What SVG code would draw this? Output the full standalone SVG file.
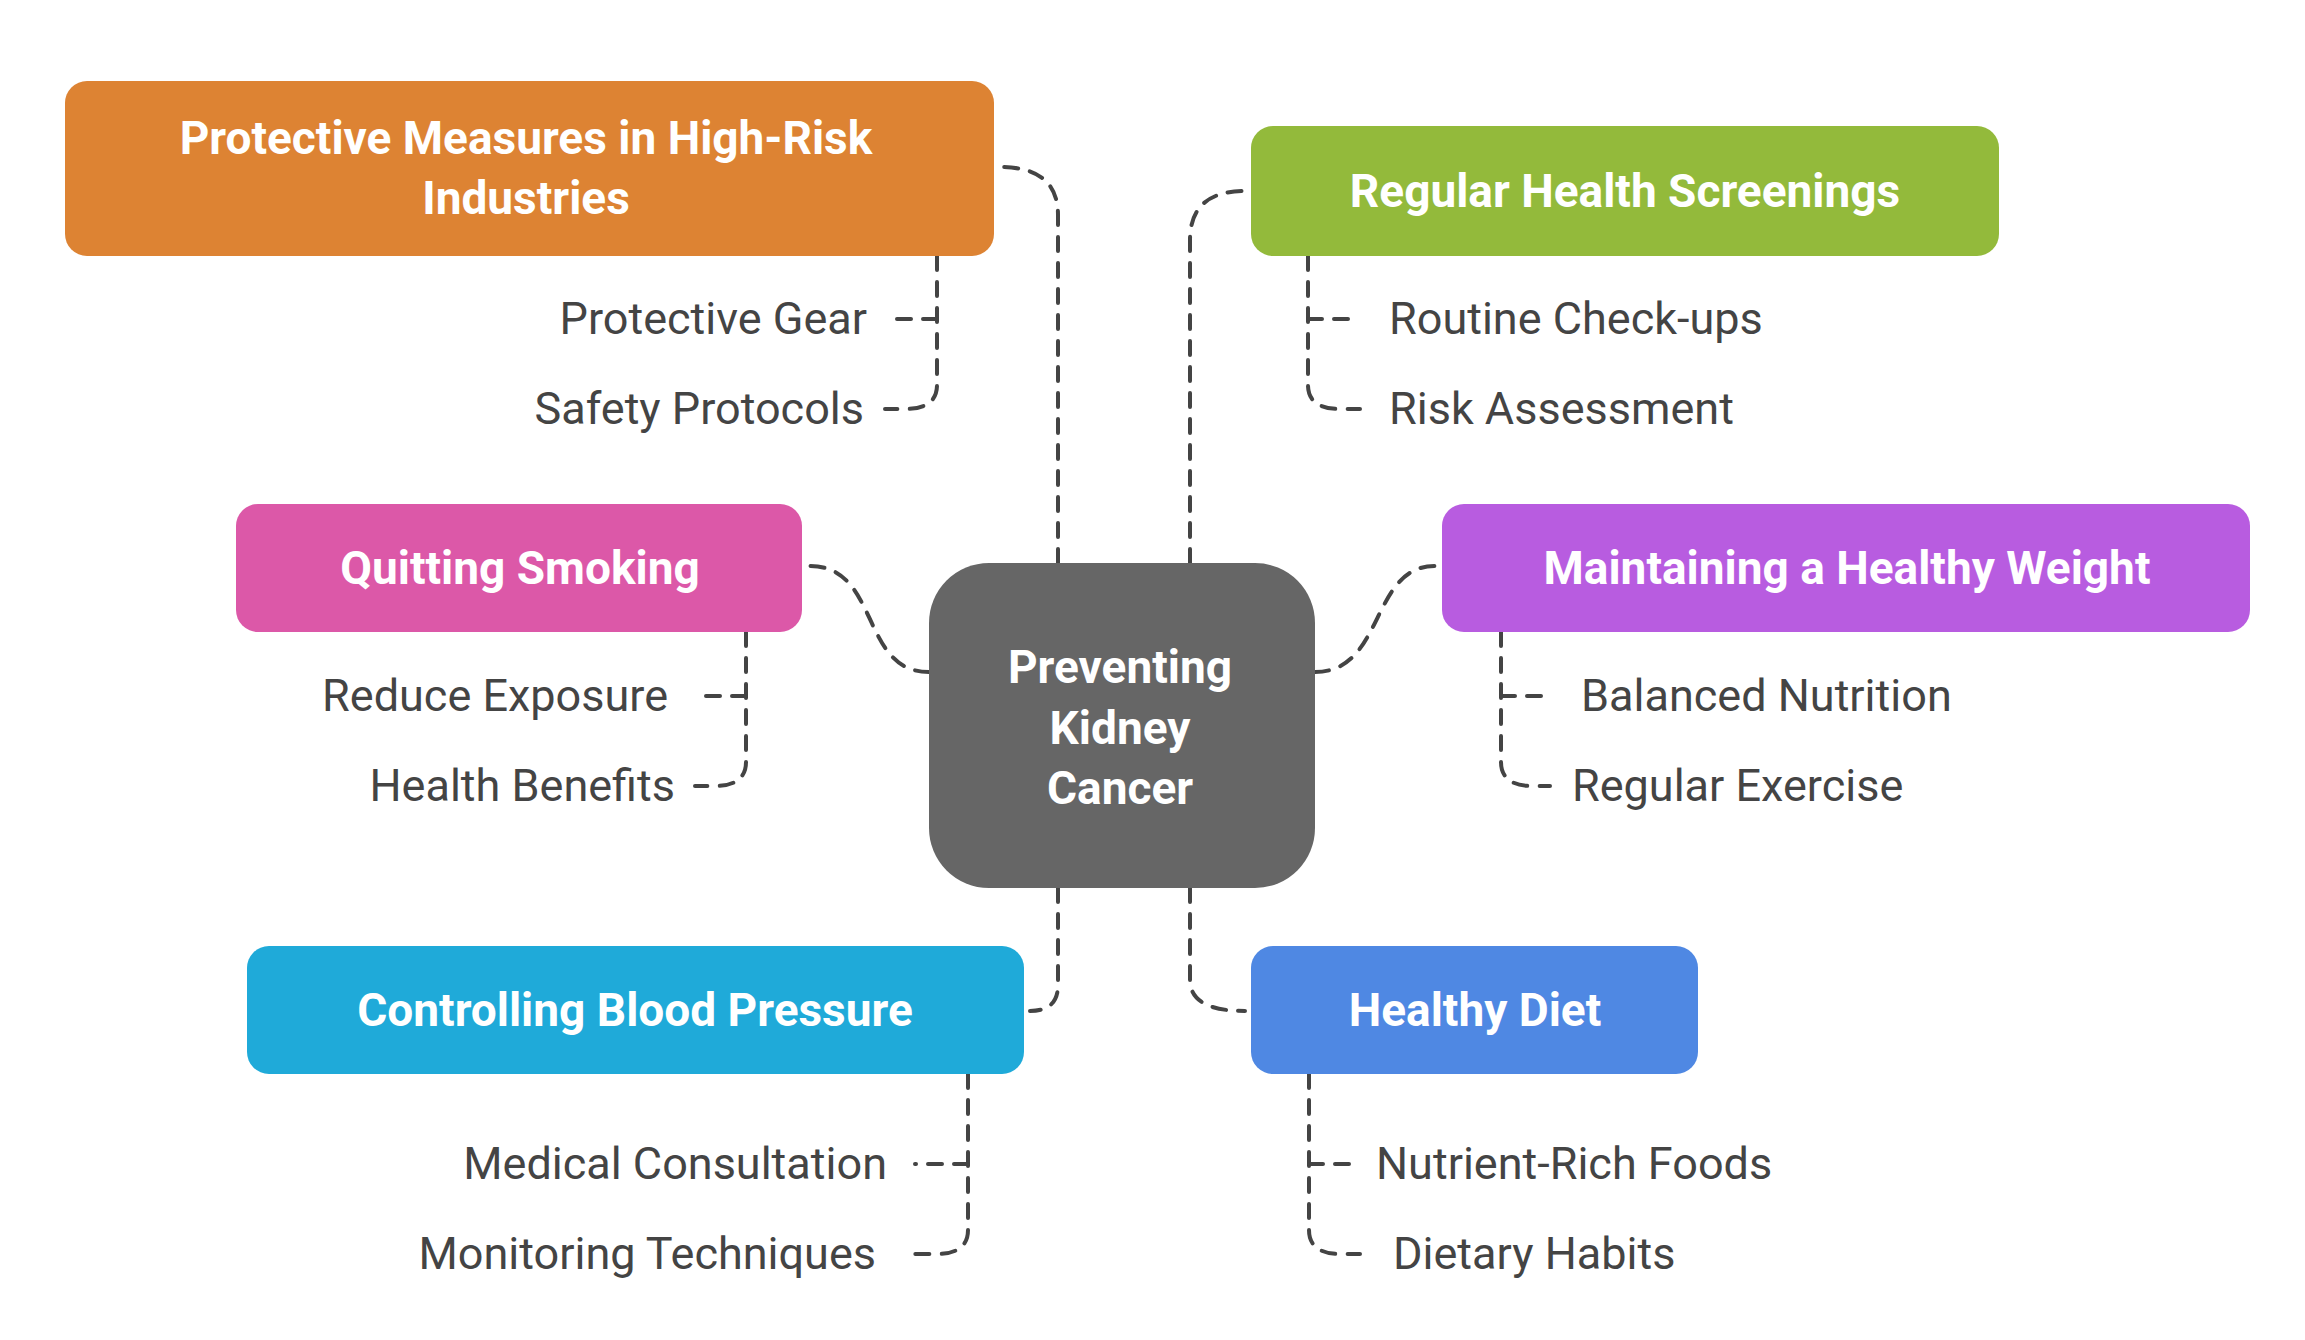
<svg xmlns="http://www.w3.org/2000/svg" width="2305" height="1340" viewBox="0 0 2305 1340">
<style>
.t{font-family:Roboto,"Liberation Sans",sans-serif;font-weight:700;font-size:46px;fill:#fff;text-anchor:middle}
.s{font-family:Roboto,"Liberation Sans",sans-serif;font-size:45px;fill:#444}
.e{text-anchor:end}
.c path{fill:none;stroke:#444;stroke-width:4;stroke-dasharray:14 12;stroke-linecap:round}
</style>
<rect width="2305" height="1340" fill="#fff"/>
<g class="c" id="connectors">
<path d="M1058 563 V215 Q1058 167 1000 167"/>
<path d="M1190 563 V240 Q1190 191 1245 191"/>
<path d="M929 672 C860 672 880 566 810 566"/>
<path d="M1315 672 C1385 672 1370 566 1435 566"/>
<path d="M1058 888 V985 Q1058 1011 1030 1011"/>
<path d="M1190 888 V980 Q1190 1011 1245 1011"/>
<path d="M937 256 V385 Q937 409 905 409 H885"/>
<path d="M937 319 H890"/>
<path d="M1308 256 V385 Q1308 409 1340 409 H1360"/>
<path d="M1308 319 H1355"/>
<path d="M746 632 V762 Q746 786 714 786 H695"/>
<path d="M746 696 H700"/>
<path d="M1501 632 V762 Q1501 786 1533 786 H1550"/>
<path d="M1501 696 H1548"/>
<path d="M968 1074 V1230 Q968 1254 936 1254 H905"/>
<path d="M968 1164 H915"/>
<path d="M1309 1074 V1230 Q1309 1254 1341 1254 H1360"/>
<path d="M1309 1164 H1355"/>
</g>
<g id="center"><rect x="929" y="563" width="386" height="325" rx="60" fill="#666"/>
<text class="t" x="1120" y="683">Preventing</text><text class="t" x="1120" y="744">Kidney</text><text class="t" x="1120" y="804">Cancer</text></g>
<g id="n1"><rect x="65" y="81" width="929" height="175" rx="22" fill="#DD8333"/>
<text class="t" x="526" y="154">Protective Measures in High-Risk</text><text class="t" x="526" y="214">Industries</text>
<text class="s e" x="867" y="334">Protective Gear</text><text class="s e" x="864" y="424">Safety Protocols</text></g>
<g id="n2"><rect x="1251" y="126" width="748" height="130" rx="22" fill="#93BA3B"/>
<text class="t" x="1625" y="207">Regular Health Screenings</text>
<text class="s" x="1389" y="334">Routine Check-ups</text><text class="s" x="1389" y="424">Risk Assessment</text></g>
<g id="n3"><rect x="236" y="504" width="566" height="128" rx="22" fill="#DC58A8"/>
<text class="t" x="520" y="584">Quitting Smoking</text>
<text class="s e" x="668" y="711">Reduce Exposure</text><text class="s e" x="675" y="801">Health Benefits</text></g>
<g id="n4"><rect x="1442" y="504" width="808" height="128" rx="22" fill="#B85CE0"/>
<text class="t" x="1847" y="584">Maintaining a Healthy Weight</text>
<text class="s" x="1581" y="711">Balanced Nutrition</text><text class="s" x="1572" y="801">Regular Exercise</text></g>
<g id="n5"><rect x="247" y="946" width="777" height="128" rx="22" fill="#1FAAD9"/>
<text class="t" x="635" y="1026">Controlling Blood Pressure</text>
<text class="s e" x="887" y="1179">Medical Consultation</text><text class="s e" x="876" y="1269">Monitoring Techniques</text></g>
<g id="n6"><rect x="1251" y="946" width="447" height="128" rx="22" fill="#4F88E3"/>
<text class="t" x="1475" y="1026">Healthy Diet</text>
<text class="s" x="1376" y="1179">Nutrient-Rich Foods</text><text class="s" x="1393" y="1269">Dietary Habits</text></g>
</svg>
